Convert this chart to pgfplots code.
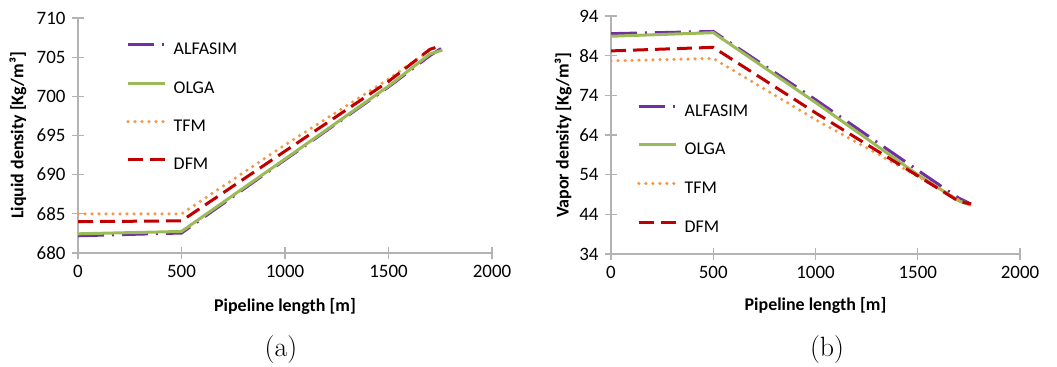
\documentclass[border=0pt]{standalone}
\usepackage{fontspec}
\setmainfont{Carlito}
\newfontfamily\lmfont{Latin Modern Roman}
\usepackage{pgfplots}
\pgfplotsset{compat=1.18}

\definecolor{alfa}{HTML}{7030A0}
\definecolor{olga}{HTML}{9BBB59}
\definecolor{tfm}{HTML}{F79646}
\definecolor{dfm}{HTML}{C00000}
\definecolor{axisgray}{HTML}{B3B3B3}

\pgfplotsset{
  excelaxis/.style={
    scale only axis,
    axis x line=bottom, axis y line=left,
    axis line style={draw=axisgray, line width=1.2bp, -},
    every tick/.style={draw=axisgray, line width=1.2bp},
    tick align=center, major tick length=12bp,
    xmin=0, xmax=2000, xtick={0,500,...,2000},
    tick label style={font=\fontsize{19}{21}\selectfont, text=black},
    /pgf/number format/assume math mode=true,
    /pgf/number format/1000 sep={},
    xticklabel style={yshift=-3bp},
    yticklabel style={xshift=-3bp},
    label style={font=\fontsize{18}{20}\selectfont\bfseries},
    xlabel={Pipeline length [m]},
    legend cell align=left,
    legend style={draw=none, fill=none, inner sep=0pt, row sep=21.3bp,
      nodes={inner sep=0pt, text height=13bp, text depth=4bp,
        font=\fontsize{18}{20}\selectfont},
      /tikz/every odd column/.append style={column sep=7bp}},
    legend image code/.code={\draw[##1] (0bp,5.5bp) -- (37bp,5.5bp);},
  },
  alfasim/.style={alfa, line width=3bp, dash pattern=on 26bp off 8bp on 2bp off 8bp},
  olgas/.style={olga, line width=3bp},
  tfms/.style={tfm, line width=3.5bp, line cap=round, dash pattern=on 0bp off 7bp},
  dfms/.style={dfm, line width=3bp, dash pattern=on 15bp off 7bp},
}

\begin{document}
\begin{tikzpicture}
\path[use as bounding box] (0,0) rectangle (1057bp,367bp);

% (a) liquid density
\begin{axis}[excelaxis,
  at={(78bp,114bp)}, anchor=south west,
  width=414bp, height=235bp,
  ymin=680, ymax=710, ytick={680,685,...,710},
  ylabel={Liquid density [Kg/m³]},
  ylabel style={at={(axis description cs:-0.145,0.5)}, anchor=center},
  xlabel style={at={(axis description cs:0.5,-0.2255)}, anchor=center},
  legend style={at={(axis description cs:0.116,0.899)}, anchor=north west},
]
\addplot[alfasim] coordinates {(0,682.2) (500,682.55) (1000,691.9) (1500,701.2) (1700,705.2) (1760,706.2)};
\addlegendentry{ALFASIM}
\addplot[olgas] coordinates {(0,682.45) (500,682.75) (1000,692.0) (1500,701.3) (1700,705.4) (1760,705.9)};
\addlegendentry{OLGA}
\addplot[tfms] coordinates {(0,685.0) (500,685.0) (1000,693.8) (1500,702.2) (1700,705.9) (1745,706.4)};
\addlegendentry{TFM}
\addplot[dfms] coordinates {(0,684.0) (500,684.1) (1000,693.0) (1500,701.9) (1700,706.0) (1735,706.3)};
\addlegendentry{DFM}
\end{axis}

% (b) vapor density
\begin{axis}[excelaxis,
  at={(611bp,113bp)}, anchor=south west,
  width=409bp, height=238bp,
  ymin=34, ymax=94, ytick={34,44,...,94},
  ylabel={Vapor density [Kg/m³]},
  ylabel style={at={(axis description cs:-0.117,0.5)}, anchor=center},
  xlabel style={at={(axis description cs:0.5,-0.218)}, anchor=center},
  legend style={at={(axis description cs:0.0636,0.635)}, anchor=north west, row sep=21.7bp},
]
\addplot[alfasim] coordinates {(0,89.55) (500,90.1) (1000,72.9) (1500,55.1) (1700,48.1) (1760,46.6)};
\addlegendentry{ALFASIM}
\addplot[olgas] coordinates {(0,88.9) (500,89.8) (1000,72.2) (1500,54.0) (1700,47.4) (1760,46.3)};
\addlegendentry{OLGA}
\addplot[tfms] coordinates {(0,82.7) (500,83.3) (1000,67.9) (1500,53.6) (1700,47.6) (1760,46.5)};
\addlegendentry{TFM}
\addplot[dfms] coordinates {(0,85.2) (500,86.1) (1000,69.6) (1500,53.7) (1700,47.3) (1760,46.6)};
\addlegendentry{DFM}
\end{axis}

\node[font=\lmfont\fontsize{28}{30}\selectfont] at (281bp,17bp) {(a)};
\node[font=\lmfont\fontsize{28}{30}\selectfont] at (827bp,17bp) {(b)};
\end{tikzpicture}
\end{document}
